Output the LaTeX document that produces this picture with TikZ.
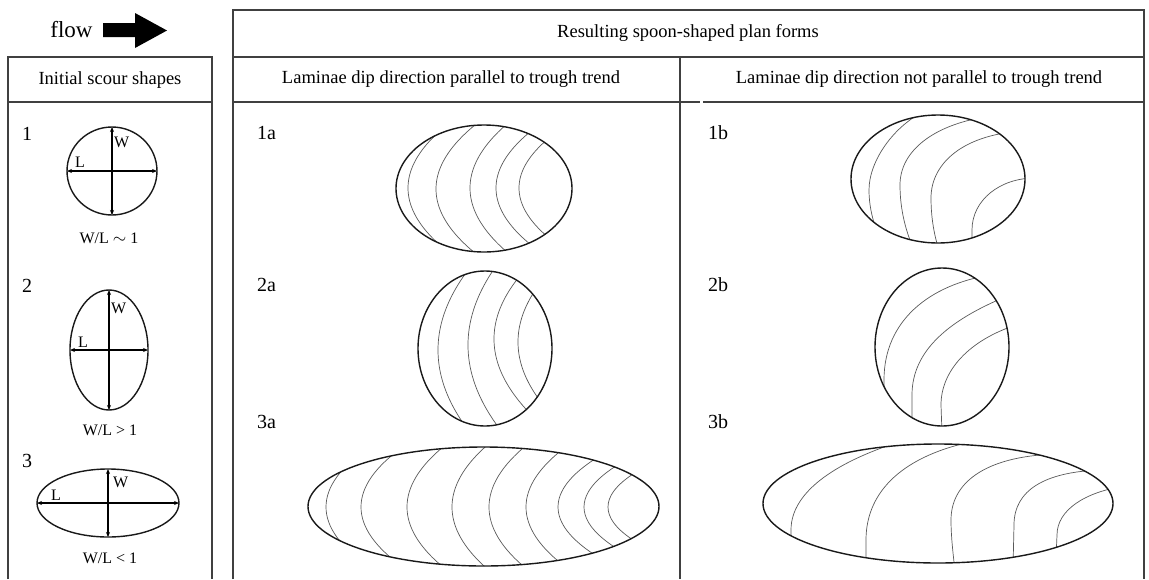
\documentclass[tikz,border=0pt]{standalone}
\usepackage{fontspec}
\setmainfont{Liberation Serif}
\usetikzlibrary{arrows.meta}
\tikzset{
  grid/.style={line width=1.2pt, draw=black!75},
  outl/.style={line width=1.4pt, draw=black!90},
  lam/.style={line width=0.7pt, draw=black!65},
  dimarrow/.style={line width=1.1pt, {Stealth[length=5pt,width=4pt]}-{Stealth[length=5pt,width=4pt]}},
  hdr/.style={font=\fontsize{18.5}{22}\selectfont, inner sep=0pt},
  lbl/.style={font=\fontsize{20}{24}\selectfont, anchor=west, inner sep=0pt},
  ratio/.style={font=\fontsize{16}{19}\selectfont, inner sep=0pt},
  ax/.style={font=\fontsize{16}{19}\selectfont, inner sep=0pt}
}
\begin{document}
\begin{tikzpicture}[x=1pt,y=-1pt]
\useasboundingbox (0,0) rectangle (1149,579);
% flow arrow
\node[font=\fontsize{23}{27}\selectfont, inner sep=0pt] (flow) at (71.5,30) {flow};
\fill[black] (103,23) -- (135,23) -- (135,13) -- (167,30.5) -- (135,48) -- (135,37) -- (103,37) -- cycle;
% left table
\draw[grid] (8,579) -- (8,57) -- (212,57) -- (212,579);
\draw[grid] (8,102) -- (212,102);
\node[hdr] (init) at (110,80) {Initial scour shapes};
% right table
\draw[grid] (233,579) -- (233,10) -- (1144,10) -- (1144,579);
\draw[grid] (233,57) -- (1144,57);
\draw[grid] (680,57) -- (680,579);
\draw[grid] (233,102) -- (700,102);
\draw[grid] (703,102) -- (1144,102);
\node[hdr] (res) at (688,33) {Resulting spoon-shaped plan forms};
\node[hdr] (par) at (451,79) {Laminae dip direction parallel to trough trend};
\node[hdr] (npar) at (919,79) {Laminae dip direction not parallel to trough trend};
% left labels
\node[lbl] (n1) at (22,134) {1};
\node[lbl] (n2) at (22,286) {2};
\node[lbl] (n3) at (22,461) {3};
% shape 1
\draw[outl] (112,171) ellipse [x radius=45, y radius=44];
\coordinate (e1l) at (67,171); \coordinate (e1r) at (157,171);
\coordinate (e1t) at (112,127); \coordinate (e1b) at (112,215);
\draw[dimarrow] (e1l) -- (e1r);
\draw[dimarrow] (e1t) -- (e1b);
\node[ax, anchor=west] (w1) at (114,142) {W};
\node[ax] (l1) at (80,162) {L};
\node[ratio] (r1) at (109,238) {W/L $\sim$ 1};
% shape 2
\draw[outl] (109,350) ellipse [x radius=39, y radius=60];
\coordinate (e2l) at (70,350); \coordinate (e2r) at (148,350);
\coordinate (e2t) at (109,290); \coordinate (e2b) at (109,410);
\draw[dimarrow] (e2l) -- (e2r);
\draw[dimarrow] (e2t) -- (e2b);
\node[ax, anchor=west] (w2) at (111,308) {W};
\node[ax] (l2) at (83,342) {L};
\node[ratio] (r2) at (110,430) {W/L > 1};
% shape 3
\draw[outl] (108,503) ellipse [x radius=71, y radius=34];
\coordinate (e3l) at (37,503); \coordinate (e3r) at (179,503);
\coordinate (e3t) at (108,469); \coordinate (e3b) at (108,537);
\draw[dimarrow] (e3l) -- (e3r);
\draw[dimarrow] (e3t) -- (e3b);
\node[ax, anchor=west] (w3) at (113,482) {W};
\node[ax] (l3) at (56,495) {L};
\node[ratio] (r3) at (110,558) {W/L < 1};
% right labels
\node[lbl] (a1) at (257,133) {1a};
\node[lbl] (a2) at (257,285) {2a};
\node[lbl] (a3) at (257,422) {3a};
\node[lbl] (b1) at (708,133) {1b};
\node[lbl] (b2) at (708,285) {2b};
\node[lbl] (b3) at (708,422) {3b};
% 1a
\begin{scope}
\clip (484,188.5) ellipse [x radius=88, y radius=63.5];
\foreach \mm/\bb/\kk in {408/188/0.0098, 436/189/0.0095, 470/188/0.009, 496/188/0.0108, 519/188/0.012}
  \draw[lam] plot[domain=-90:90,samples=41,smooth] ({\mm+\kk*(\x)^2},{\bb+\x});
\end{scope}
\draw[outl] (484,188.5) ellipse [x radius=88, y radius=63.5];
% 2a
\begin{scope}
\clip (485,348.5) ellipse [x radius=67, y radius=77.5];
\foreach \mm/\bb/\kk in {438/350/0.0047, 468/345/0.0045, 494/339/0.0065, 518/342/0.0064}
  \draw[lam] plot[domain=-95:95,samples=41,smooth] ({\mm+\kk*(\x)^2},{\bb+\x});
\end{scope}
\draw[outl] (485,348.5) ellipse [x radius=67, y radius=77.5];
% 3a
\begin{scope}
\clip (483.5,506.5) ellipse [x radius=175.5, y radius=59.5];
\foreach \mm/\kk in {326/0.012, 361/0.0116, 407/0.010, 452/0.0092, 489/0.0098, 526/0.011, 558/0.016, 584/0.019, 608/0.023}
  \draw[lam] plot[domain=-75:75,samples=41,smooth] ({\mm+\kk*(\x)^2},{507+\x});
\end{scope}
\draw[outl] (483.5,506.5) ellipse [x radius=175.5, y radius=59.5];
% 1b
\begin{scope}
\clip (938,179) ellipse [x radius=87, y radius=64];
\draw[lam] (925,111) .. controls (895,125) and (869,160) .. (869,190) .. controls (869,210) and (875,228) .. (881,242);
\draw[lam] (985,117) .. controls (935,125) and (900,150) .. (900,185) .. controls (900,210) and (906,232) .. (914,250);
\draw[lam] (1012,132) .. controls (960,138) and (931,165) .. (931,198) .. controls (931,220) and (935,238) .. (939,250);
\draw[lam] (1035,178) .. controls (1000,178) and (972,200) .. (972,230) .. controls (972,240) and (972,245) .. (972,250);
\end{scope}
\draw[outl] (938,179) ellipse [x radius=87, y radius=64];
% 2b
\begin{scope}
\clip (942,347) ellipse [x radius=67, y radius=79];
\draw[lam] (990,275) .. controls (930,285) and (884,320) .. (884,380) -- (884,395);
\draw[lam] (1005,297) .. controls (950,320) and (912,350) .. (912,395) -- (912,432);
\draw[lam] (1016,325) .. controls (970,340) and (941,370) .. (941,405) -- (942,433);
\end{scope}
\draw[outl] (942,347) ellipse [x radius=67, y radius=79];
% 3b
\begin{scope}
\clip (938,503.5) ellipse [x radius=175, y radius=59.5];
\draw[lam] (905,440) .. controls (840,460) and (791,490) .. (791,530) -- (791,548);
\draw[lam] (975,441) .. controls (905,455) and (866,490) .. (866,540) -- (866,570);
\draw[lam] (1060,454) .. controls (990,455) and (951,480) .. (951,520) .. controls (951,540) and (954,560) .. (955,572);
\draw[lam] (1100,470) .. controls (1045,472) and (1014,490) .. (1014,525) -- (1013,568);
\draw[lam] (1125,486) .. controls (1085,492) and (1057,510) .. (1057,535) -- (1056,558);
\end{scope}
\draw[outl] (938,503.5) ellipse [x radius=175, y radius=59.5];
\end{tikzpicture}
\end{document}
